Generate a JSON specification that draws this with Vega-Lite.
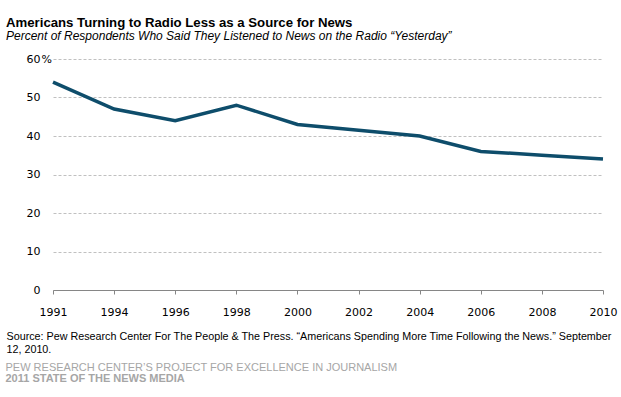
{
  "$schema": "https://vega.github.io/schema/vega-lite/v6.json",
  "background": "white",
  "padding": {"left": 5, "top": 15, "right": 5, "bottom": 0},
  "config": {"view": {"stroke": null}, "font": "Liberation Sans", "concat": {"spacing": 7}},
  "vconcat": [
    {
      "width": 550,
      "height": 231,
      "title": {
        "text": "Americans Turning to Radio Less as a Source for News",
        "subtitle": "Percent of Respondents Who Said They Listened to News on the Radio “Yesterday”",
        "anchor": "start",
        "frame": "bounds",
        "font": "Liberation Sans",
        "fontSize": 13.2,
        "fontWeight": "bold",
        "color": "#000000",
        "subtitleFont": "Liberation Sans",
        "subtitleFontSize": 12,
        "subtitleFontStyle": "italic",
        "subtitleColor": "#000000",
        "subtitlePadding": 1,
        "offset": 10
      },
      "data": {
        "values": [
          {"year": "1991", "pct": 54},
          {"year": "1994", "pct": 47},
          {"year": "1996", "pct": 44},
          {"year": "1998", "pct": 48},
          {"year": "2000", "pct": 43},
          {"year": "2002", "pct": 41.5},
          {"year": "2004", "pct": 40},
          {"year": "2006", "pct": 36},
          {"year": "2008", "pct": 35},
          {"year": "2010", "pct": 34}
        ]
      },
      "mark": {"type": "line", "color": "#0e4d6b", "strokeWidth": 3.5},
      "encoding": {
        "x": {
          "field": "year",
          "type": "ordinal",
          "sort": null,
          "scale": {"type": "point", "padding": 0},
          "axis": {
            "title": ["Source: Pew Research Center For The People & The Press. “Americans Spending More Time Following the News.”  September", "12, 2010."],
            "titleFont": "Liberation Sans",
            "titleFontSize": 10.75,
            "titleFontWeight": "normal",
            "titleColor": "#000000",
            "titleAnchor": "start",
            "titleAlign": "left",
            "titleBaseline": "top",
            "titleX": -47,
            "titleY": 41,
            "titleLineHeight": 13,
            "labelFont": "DejaVu Sans",
            "labelFontSize": 11,
            "labelColor": "#000000",
            "labelAngle": 0,
            "labelPadding": 12,
            "tickSize": 4,
            "tickColor": "#868686",
            "domainColor": "#868686",
            "grid": false
          }
        },
        "y": {
          "field": "pct",
          "type": "quantitative",
          "scale": {"domain": [0, 60], "nice": false},
          "axis": {
            "title": "%",
            "titleFont": "DejaVu Sans",
            "titleFontSize": 11,
            "titleFontWeight": "normal",
            "titleColor": "#000000",
            "titleAngle": 0,
            "titleAlign": "left",
            "titleBaseline": "middle",
            "titleX": -12,
            "titleY": 0,
            "values": [0, 10, 20, 30, 40, 50, 60],
            "labelFont": "DejaVu Sans",
            "labelFontSize": 11,
            "labelColor": "#000000",
            "labelPadding": 13,
            "ticks": false,
            "tickSize": 0,
            "domain": false,
            "grid": true,
            "gridColor": "#c0c0c0",
            "gridDash": [3, 2],
            "gridWidth": 1
          }
        }
      }
    },
    {
      "width": 550,
      "height": 0,
      "title": {
        "text": "PEW RESEARCH CENTER’S PROJECT FOR EXCELLENCE IN JOURNALISM",
        "subtitle": "2011 STATE OF THE NEWS MEDIA",
        "anchor": "start",
        "dx": -47,
        "font": "Liberation Sans",
        "fontSize": 11,
        "fontWeight": "normal",
        "color": "#a6a6a6",
        "subtitleFont": "Liberation Sans",
        "subtitleFontSize": 11,
        "subtitleFontWeight": "bold",
        "subtitleColor": "#a6a6a6",
        "subtitlePadding": 0,
        "offset": 0
      },
      "data": {"values": [{}]},
      "mark": {"type": "rule", "opacity": 0},
      "encoding": {}
    }
  ]
}
